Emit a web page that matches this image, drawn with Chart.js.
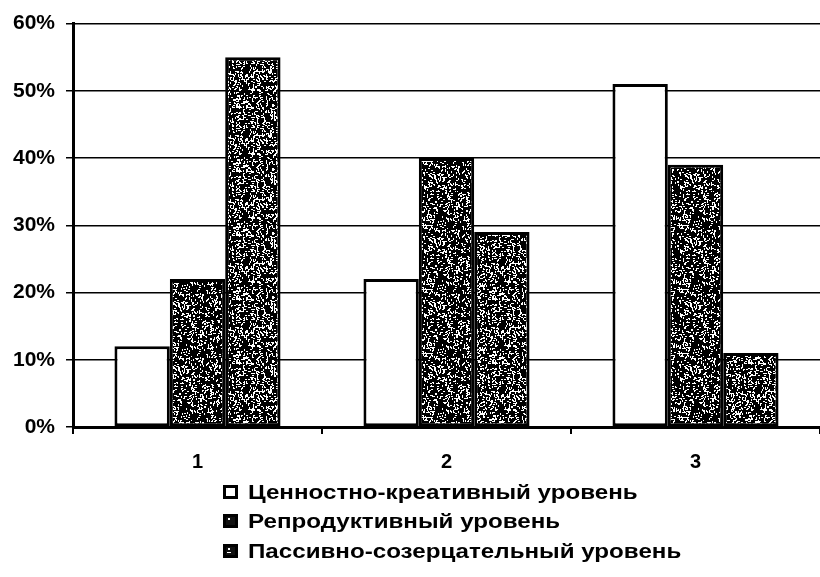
<!DOCTYPE html>
<html>
<head>
<meta charset="utf-8">
<script src="https://cdn.jsdelivr.net/npm/chart.js@4"></script>
<style>
html,body{margin:0;padding:0;background:#fff;}
#wrap{width:820px;height:577px;position:relative;}
</style>
</head>
<body>
<div id="wrap"><canvas id="c" width="820" height="577"></canvas></div>
<script>
const categories = ['1', '2', '3'];
const seriesNames = ['Ценностно-креативный уровень', 'Репродуктивный уровень', 'Пассивно-созерцательный уровень'];
const creativeLevel = [12, 22, 51];
const reproductiveLevel = [22, 40, 39];
const passiveLevel = [55, 29, 11];
const yTickValues = [0, 10, 20, 30, 40, 50, 60];

function makeStipple(whiteShare, seed) {
  const n = 64;
  const c = document.createElement('canvas');
  c.width = n; c.height = n;
  const g = c.getContext('2d');
  g.fillStyle = '#000';
  g.fillRect(0, 0, n, n);
  g.fillStyle = '#fff';
  let s = seed;
  const rnd = () => { s = (s * 1103515245 + 12345) & 0x7fffffff; return s / 0x7fffffff; };
  const count = Math.round(n * n * whiteShare / 1.5);
  for (let i = 0; i < count; i++) {
    const x = Math.floor(rnd() * n), y = Math.floor(rnd() * n);
    const horiz = rnd() < 0.5;
    g.fillRect(x, y, horiz ? 2 : 1, horiz ? 1 : 2);
  }
  return g.createPattern(c, 'repeat');
}

const ctx = document.getElementById('c').getContext('2d');
const fills = ['#ffffff', makeStipple(0.22, 7), makeStipple(0.26, 19)];
const legendIconFills = ['#ffffff', '#111111', '#111111'];

const legendPlugin = {
  id: 'columnLegend',
  afterDraw(chart) {
    const g = chart.ctx;
    const x0 = 223, rows = [492, 521, 551];
    g.save();
    chart.data.datasets.forEach((ds, i) => {
      const y = rows[i];
      g.fillStyle = legendIconFills[i];
      g.fillRect(x0, y - 7, 15, 14);
      g.lineWidth = 3;
      g.strokeStyle = '#000';
      g.strokeRect(x0 + 1.5, y - 5.5, 12, 11);
      if (i > 0) {
        g.fillStyle = '#fff';
        g.fillRect(x0 + 5, y - 3, 2, 2);
        if (i === 2) g.fillRect(x0 + 4, y + 1, 4, 1);
      }
      g.save();
      g.translate(248, y);
      g.scale(1.15, 1);
      g.fillStyle = '#000';
      g.font = 'bold 21px "Liberation Sans", Arial, sans-serif';
      g.textBaseline = 'middle';
      g.textAlign = 'left';
      g.fillText(ds.label, 0, 1);
      g.restore();
    });
    g.restore();
  }
};

new Chart(ctx, {
  type: 'bar',
  data: {
    labels: categories,
    datasets: [
      { label: seriesNames[0], data: creativeLevel, backgroundColor: fills[0] },
      { label: seriesNames[1], data: reproductiveLevel, backgroundColor: fills[1] },
      { label: seriesNames[2], data: passiveLevel, backgroundColor: fills[2] }
    ]
  },
  options: {
    responsive: false,
    animation: false,
    devicePixelRatio: 1,
    layout: { padding: { top: 21, right: 0, bottom: 0, left: 0 } },
    datasets: {
      bar: {
        borderColor: '#000',
        borderWidth: 3,
        borderSkipped: false,
        categoryPercentage: 0.667,
        barPercentage: 1.0
      }
    },
    plugins: {
      legend: { display: false },
      tooltip: { enabled: false }
    },
    scales: {
      x: {
        grid: { display: true, drawOnChartArea: false, drawTicks: true, tickLength: 7, color: '#000', lineWidth: 2, offset: true },
        border: { display: true, color: '#000', width: 3 },
        ticks: { color: '#000', font: { family: '"Liberation Sans", Arial, sans-serif', size: 20, weight: 'bold' }, padding: 16 },
        afterFit(scale) { scale.height = 150; }
      },
      y: {
        min: 0,
        max: 60,
        afterBuildTicks(scale) { scale.ticks = yTickValues.map(v => ({ value: v })); },
        grid: { color: '#000', lineWidth: 1.5, drawTicks: true, tickLength: 7 },
        border: { display: true, color: '#000', width: 3 },
        ticks: {
          color: '#000',
          padding: 11,
          font: { family: '"Liberation Sans", Arial, sans-serif', size: 21, weight: 'bold' },
          callback: v => v + '%'
        },
        afterFit(scale) { scale.width = 73; }
      }
    }
  },
  plugins: [legendPlugin]
});
</script>
</body>
</html>
